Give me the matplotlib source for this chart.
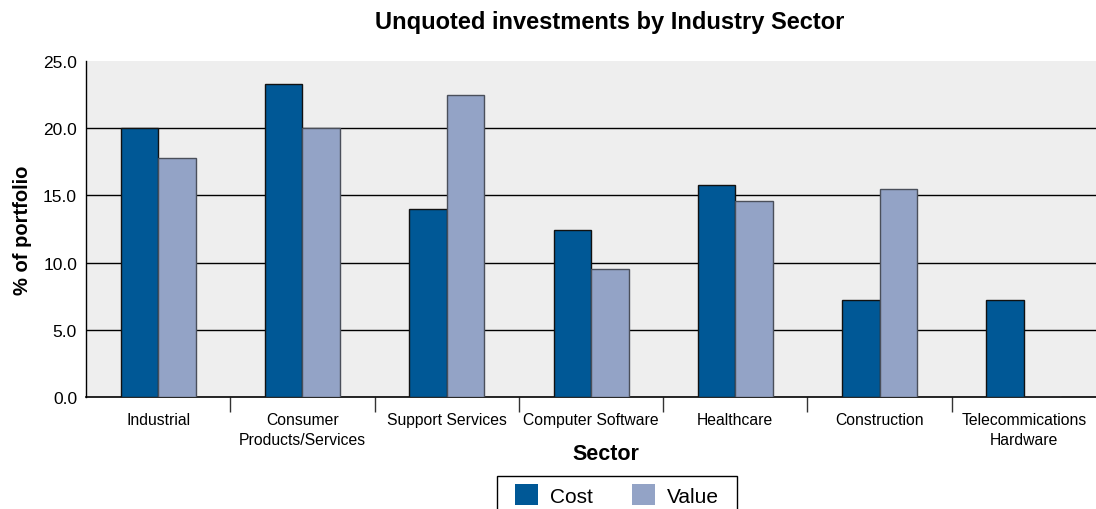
import matplotlib
matplotlib.use("Agg")
import matplotlib.pyplot as plt
import numpy as np
from matplotlib.patches import Patch, Rectangle
from matplotlib.ticker import FixedLocator

plt.rcParams['font.family'] = ['Liberation Sans', 'DejaVu Sans']

sectors = ["Industrial", "Consumer\nProducts/Services", "Support Services",
           "Computer Software", "Healthcare", "Construction",
           "Telecommications\nHardware"]
cost = [20.0, 23.3, 14.0, 12.45, 15.8, 7.2, 7.2]
value = [17.8, 20.0, 22.5, 9.5, 14.6, 15.5, 0.0]
y_ticks = [0, 5, 10, 15, 20, 25]

cost_color = "#005896"
value_color = "#93A3C6"
bg_color = "#EEEEEE"

W, H = 1096, 510
fig = plt.figure(figsize=(W / 100, H / 100), dpi=100)
ax = fig.add_axes([0.0785, 0.2196, 0.9215, 0.6588])
ax.set_facecolor(bg_color)

x = np.arange(len(sectors))
w = 0.26
ax.bar(x - w / 2, cost, width=w, color=cost_color, edgecolor="#111111",
       linewidth=1.0, zorder=3)
ax.bar(x + w / 2, value, width=w, color=value_color, edgecolor="#4a4f5a",
       linewidth=1.0, zorder=3)

ax.set_xlim(-0.5, len(sectors) - 0.5)
ax.set_ylim(0, 25)
ax.set_yticks(y_ticks)
ax.set_yticklabels([f"{v:.1f}" for v in y_ticks], fontsize=12.5)
ax.tick_params(axis="y", length=0, pad=6.5)
# horizontal rules at the inner tick values only
for v in y_ticks[1:-1]:
    ax.axhline(v, color="black", linewidth=1.0, zorder=1)

ax.set_xticks(x)
ax.set_xticklabels(sectors, fontsize=11.3, linespacing=1.45)
ax.tick_params(axis="x", which="major", length=0, pad=10.5)
ax.xaxis.set_minor_locator(FixedLocator(np.arange(0.5, len(sectors) - 1, 1.0)))
ax.tick_params(axis="x", which="minor", length=11, width=1.0, color="#333333",
               direction="out")

for s in ("top", "right"):
    ax.spines[s].set_visible(False)
ax.spines["left"].set_linewidth(1.0)
ax.spines["bottom"].set_linewidth(1.2)

ax.set_ylabel("% of portfolio", fontsize=14.5, fontweight="bold", labelpad=8)
fig.text(606 / W, 1 - 455 / H, "Sector", fontsize=15.5, fontweight="bold",
         ha="center", va="center")
fig.text(610 / W, 1 - 23 / H, "Unquoted investments by Industry Sector",
         fontsize=17, fontweight="bold", ha="center", va="center")

# legend box, running off the bottom edge of the figure
fig.patches.append(Rectangle((497 / W, -0.05), (737 - 497) / W,
                             0.05 + (H - 477) / H, transform=fig.transFigure,
                             facecolor="white", edgecolor="black",
                             linewidth=1.0, zorder=1))
handles = [Patch(facecolor=cost_color, edgecolor="none", label="Cost"),
           Patch(facecolor=value_color, edgecolor="none", label="Value")]
leg = fig.legend(handles=handles, loc="upper left",
                 bbox_to_anchor=(515 / W, 1 - 485 / H), ncol=2,
                 fontsize=15, frameon=False,
                 handlelength=1.1, handleheight=1.2, columnspacing=1.85,
                 borderpad=0, borderaxespad=0, handletextpad=0.6)
leg.set_zorder(2)

fig.savefig("out.png", dpi=100)
